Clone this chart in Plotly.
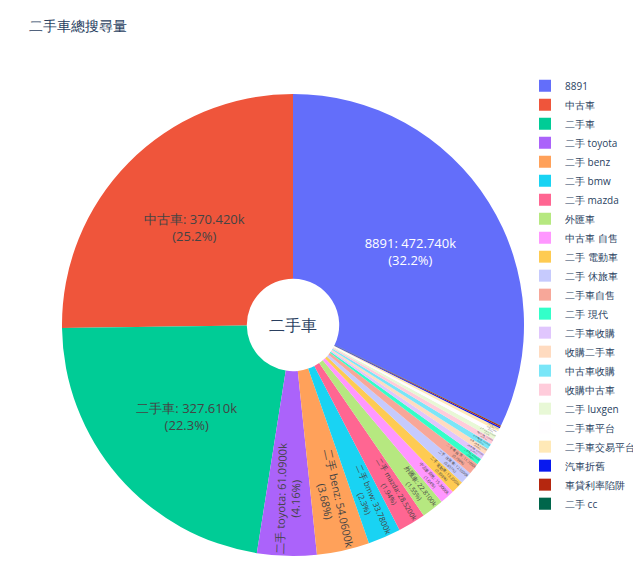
import plotly.graph_objects as go

labels = ["8891", "中古車", "二手車", "二手 toyota", "二手 benz", "二手 bmw", "二手 mazda",
          "外匯車", "中古車 自售", "二手 電動車", "二手 休旅車", "二手車自售", "二手 現代",
          "二手車收購", "收購二手車", "中古車收購", "收購中古車", "二手 luxgen", "二手車平台",
          "二手車交易平台", "汽車折舊", "車貸利率陷阱", "二手 cc"]
values = [472740, 370420, 327610, 61090, 54060, 33780, 28520,
          22810, 15300, 13200, 12500, 11700, 6500,
          6200, 6000, 5900, 5600, 5000, 4200,
          3500, 1500, 1200, 300]

fig = go.Figure(go.Pie(
    labels=labels,
    values=values,
    hole=0.2,
    textposition="inside",
    insidetextfont=dict(size=13),
    texttemplate="%{label}: %{value:.6s}<br>(%{percent})",
    domain=dict(x=[0, 1], y=[0.0158, 0.9289]),
))

fig.update_layout(
    width=641, height=571,
    title=dict(text="二手車總搜尋量", x=0.033, y=0.968, yanchor="middle",
               font=dict(size=14)),
    margin=dict(l=53, r=124, t=50, b=15, autoexpand=False),
    legend=dict(x=1.0, y=0.974, yanchor="top", font=dict(size=10)),
    annotations=[dict(text="二手車", x=0.5, y=0.4724, xref="paper", yref="paper",
                      showarrow=False, font=dict(size=16))],
)

fig.write_html("out.html")
